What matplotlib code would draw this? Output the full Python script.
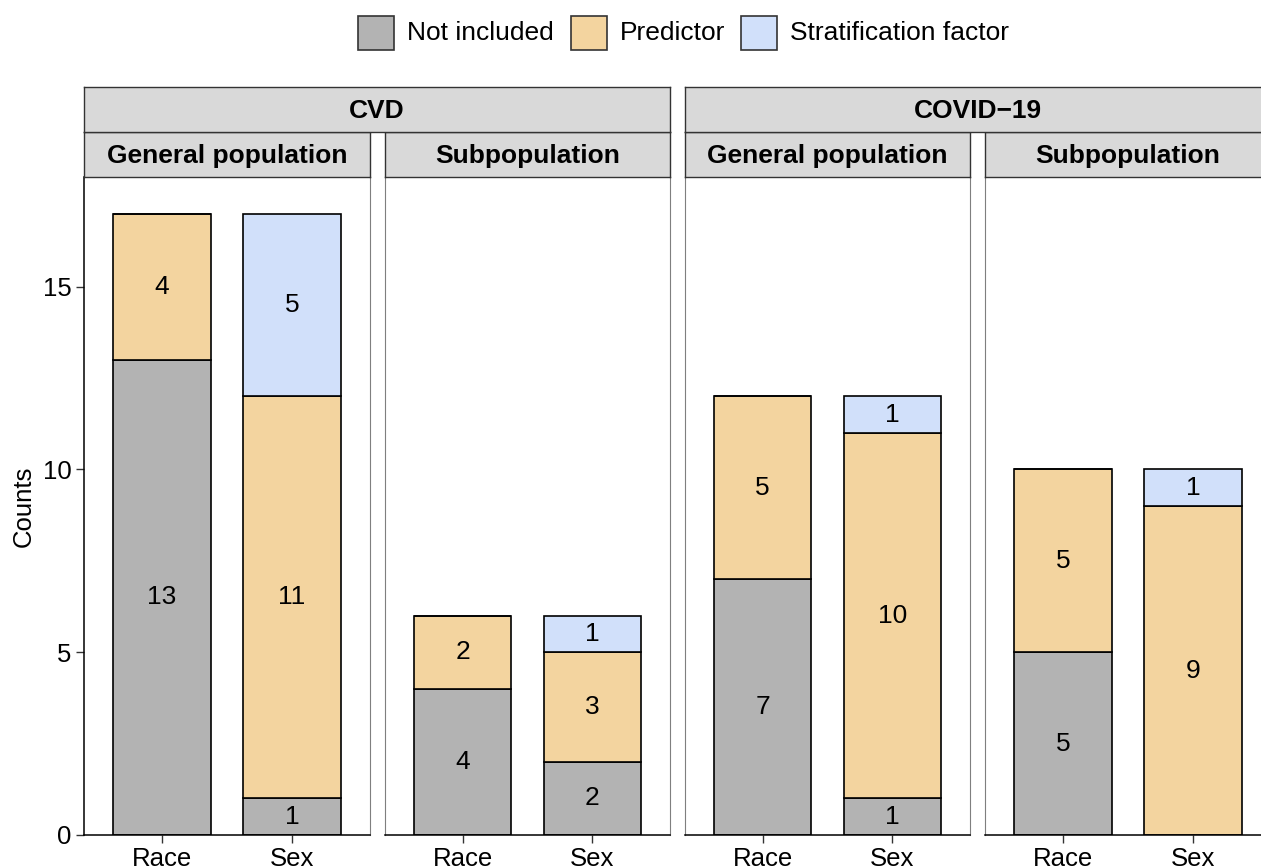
import matplotlib
matplotlib.use("Agg")
import matplotlib.pyplot as plt
from matplotlib.patches import Rectangle

plt.rcParams['font.family'] = ['Liberation Sans', 'DejaVu Sans']

# ---- data -------------------------------------------------------------
categories = ["Race", "Sex"]
outcomes = ["CVD", "COVID\u221219"]
populations = ["General population", "Subpopulation"]
levels = ["Not included", "Predictor", "Stratification factor"]
colors = ["#B3B3B3", "#F3D49F", "#D1E0FA"]

# counts per panel: [Race, Sex] for each level
cvd_general_not_included = [13, 1]
cvd_general_predictor = [4, 11]
cvd_general_stratification = [0, 5]

cvd_sub_not_included = [4, 2]
cvd_sub_predictor = [2, 3]
cvd_sub_stratification = [0, 1]

covid_general_not_included = [7, 1]
covid_general_predictor = [5, 10]
covid_general_stratification = [0, 1]

covid_sub_not_included = [5, 0]
covid_sub_predictor = [5, 9]
covid_sub_stratification = [0, 1]

y_ticks = [0, 5, 10, 15]
y_limit = 18

panels = [
    (cvd_general_not_included, cvd_general_predictor, cvd_general_stratification),
    (cvd_sub_not_included, cvd_sub_predictor, cvd_sub_stratification),
    (covid_general_not_included, covid_general_predictor, covid_general_stratification),
    (covid_sub_not_included, covid_sub_predictor, covid_sub_stratification),
]

# ---- layout (pixel geometry) -------------------------------------------
W, H = 1261, 867
fig = plt.figure(figsize=(W / 100, H / 100), dpi=100)


def px_axes(x0, y0, x1, y1):
    return fig.add_axes([x0 / W, 1 - y1 / H, (x1 - x0) / W, (y1 - y0) / H])


panel_x = [(84, 370), (385, 670), (685, 970), (985, 1271)]
panel_top, panel_bottom = 177, 835
inner_strip = (132, 177)
outer_strip = (87, 132)

FS = 19
BORDER = "#333333"

for i, ((x0, x1), series) in enumerate(zip(panel_x, panels)):
    ax = px_axes(x0, panel_top, x1, panel_bottom)
    xs = list(range(1, len(categories) + 1))
    bottoms = [0] * len(categories)
    for vals, col in zip(series, colors):
        ax.bar(xs, vals, width=0.75, bottom=bottoms, color=col,
               edgecolor="black", linewidth=1.2, zorder=2)
        for x, b, v in zip(xs, bottoms, vals):
            if v > 0:
                ax.text(x, b + v / 2, str(v), ha="center", va="center",
                        fontsize=FS, zorder=3)
        bottoms = [b + v for b, v in zip(bottoms, vals)]
    ax.set_xlim(0.4, len(categories) + 0.6)
    ax.set_ylim(0, y_limit)
    ax.set_xticks(xs)
    ax.set_xticklabels(categories, fontsize=18.5)
    ax.tick_params(axis="x", length=6, width=1, color=BORDER, pad=3)
    ax.spines["top"].set_visible(False)
    ax.spines["bottom"].set_color("black")
    ax.spines["bottom"].set_linewidth(1.1)
    ax.spines["right"].set_color("#7F7F7F")
    ax.spines["right"].set_linewidth(0.8)
    if i == 0:
        ax.set_yticks(y_ticks)
        ax.set_yticklabels([str(t) for t in y_ticks], fontsize=18.5)
        ax.tick_params(axis="y", length=6, width=1, color=BORDER, pad=3)
        ax.spines["left"].set_color("black")
        ax.spines["left"].set_linewidth(1.1)
        ax.set_ylabel("Counts", fontsize=18.5, labelpad=5)
    else:
        ax.set_yticks([])
        ax.spines["left"].set_color("#7F7F7F")
        ax.spines["left"].set_linewidth(0.8)

    # inner strip
    sax = px_axes(x0, inner_strip[0], x1, inner_strip[1])
    sax.set_facecolor("#D9D9D9")
    sax.set_xticks([]); sax.set_yticks([])
    for s in sax.spines.values():
        s.set_color(BORDER); s.set_linewidth(1.0)
    sax.text(0.5, 0.47, populations[i % 2], transform=sax.transAxes,
             ha="center", va="center", fontsize=FS, fontweight="bold")

# outer strips
for j, name in enumerate(outcomes):
    x0 = panel_x[2 * j][0]
    x1 = panel_x[2 * j + 1][1]
    oax = px_axes(x0, outer_strip[0], x1, outer_strip[1])
    oax.set_facecolor("#D9D9D9")
    oax.set_xticks([]); oax.set_yticks([])
    for s in oax.spines.values():
        s.set_color(BORDER); s.set_linewidth(1.0)
    oax.text(0.5, 0.47, name, transform=oax.transAxes,
             ha="center", va="center", fontsize=FS, fontweight="bold")

# legend
key_x = [358, 571, 741]
key_w, key_top, key_h = 36, 16, 34
for kx, lab, col in zip(key_x, levels, colors):
    fig.add_artist(Rectangle((kx / W, 1 - (key_top + key_h) / H), key_w / W, key_h / H,
                             facecolor=col, edgecolor=BORDER, linewidth=1.2,
                             transform=fig.transFigure))
    fig.text((kx + key_w + 13) / W, 1 - (key_top + key_h / 2) / H, lab,
             ha="left", va="center", fontsize=FS)

fig.savefig("out.png", dpi=100)
